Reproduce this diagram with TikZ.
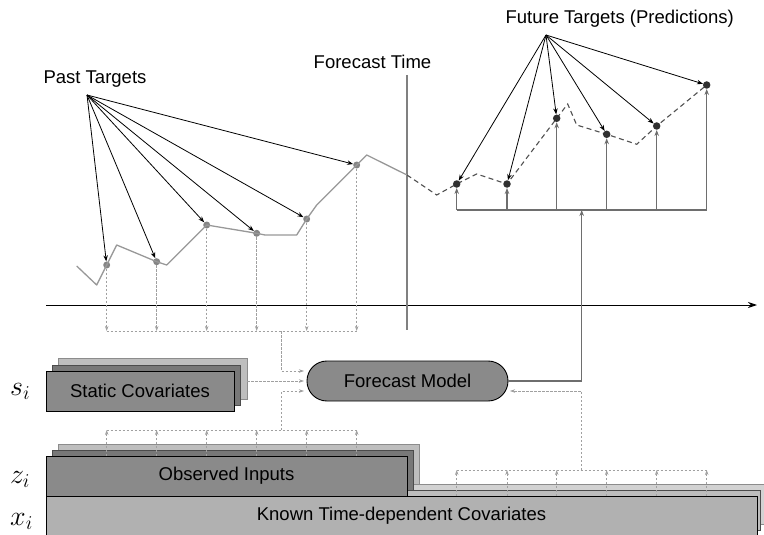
\RequirePackage{fix-cm}
\documentclass[tikz,border=0pt]{standalone}
\usepackage{fontspec}
\setmainfont{Liberation Sans}
\usetikzlibrary{arrows.meta}

\definecolor{seriesgray}{HTML}{989898}
\definecolor{pastdot}{HTML}{858585}
\definecolor{futdot}{HTML}{303030}
\definecolor{futline}{HTML}{505050}
\definecolor{linkgray}{HTML}{6E6E6E}
\definecolor{dashgray}{HTML}{A0A0A0}
\definecolor{midfill}{HTML}{8A8A8A}
\definecolor{darkfill}{HTML}{787878}
\definecolor{lightfill}{HTML}{BEBEBE}
\definecolor{knownfill}{HTML}{B1B1B1}
\definecolor{knownmid}{HTML}{BDBDBD}
\definecolor{knownback}{HTML}{D2D2D2}

\tikzset{
  lbl/.style={font=\fontsize{18.5}{22}\selectfont},
  mathlbl/.style={font=\fontsize{28}{32}\selectfont, anchor=base west, inner sep=0pt},
  frontbox/.style={draw=black, line width=0.9pt, inner sep=0pt, outer sep=0pt, lbl},
  midlayer/.style={draw=black!70, line width=0.9pt},
  backlayer/.style={draw=black!45, line width=0.9pt},
  pdot/.style={circle, fill=pastdot, inner sep=0pt, minimum size=7pt},
  fdot/.style={circle, fill=futdot, inner sep=0pt, minimum size=7.5pt},
  blkarrow/.style={draw=black, line width=0.8pt, -{Stealth[length=6pt,width=4.5pt]}},
  gdash/.style={draw=dashgray, line width=0.7pt, dash pattern=on 2.5pt off 1.5pt, -{Stealth[length=5pt,width=3.5pt]}},
  gdashline/.style={draw=dashgray, line width=0.7pt, dash pattern=on 2.5pt off 1.5pt},
  linkline/.style={draw=linkgray, line width=1.1pt},
  linkarrow/.style={draw=linkgray, line width=1.1pt, -{Stealth[length=6pt,width=4.5pt]}},
}

\begin{document}
\begin{tikzpicture}[x=1pt,y=-1pt]
\useasboundingbox (0,0) rectangle (764,535);

% ---------- input stacks ----------
% known time-dependent covariates (rear layers)
\path[backlayer, fill=knownback] (58,484) rectangle (768,524);
\path[midlayer, fill=knownmid] (52,490) rectangle (760.5,530);
% observed inputs
\path[backlayer, fill=lightfill] (58,444) rectangle (419,484);
\path[midlayer, fill=darkfill] (52,450) rectangle (413,490);
\node[frontbox, fill=midfill, minimum width=361pt, minimum height=40pt] (obs) at (226.5,476) {Observed Inputs};
% known time-dependent covariates (front)
\node[frontbox, fill=knownfill, minimum width=711pt, minimum height=40pt] (known) at (401.5,516) {Known Time-dependent Covariates};
% static covariates
\path[backlayer, fill=lightfill] (58,358) rectangle (247,399);
\path[midlayer, fill=darkfill] (52,365) rectangle (240.5,405);
\node[frontbox, fill=midfill, minimum width=188pt, minimum height=40pt] (static) at (140,391) {Static Covariates};

% side labels
\node[mathlbl] (slbl) at (10,395) {$s_i$};
\node[mathlbl] (zlbl) at (10,483) {$z_i$};
\node[mathlbl] (xlbl) at (10,525) {$x_i$};

% ---------- forecast model ----------
\node[frontbox, fill=midfill, rounded corners=19.9pt, minimum width=201pt, minimum height=40pt] (model) at (407.5,381) {Forecast Model};

% ---------- time axis and forecast time ----------
\draw[line width=1pt, -{Stealth[length=9pt,width=6pt]}] (46,305) coordinate (axstart) -- (757,305) coordinate (axend);
\draw[draw=black!50, line width=1.1pt] (407,75) coordinate (fttop) -- (407,330) coordinate (ftbot);

% ---------- target series ----------
\node[pdot] (p1) at (106.7,265) {};
\node[pdot] (p2) at (156.7,261.7) {};
\node[pdot] (p3) at (206.7,225) {};
\node[pdot] (p4) at (256.7,233.3) {};
\node[pdot] (p5) at (306.7,219) {};
\node[pdot] (p6) at (356.7,165) {};
\coordinate (split) at (407,175);

\draw[seriesgray, line width=1.3pt, line join=round]
  (76.7,266) -- (96.7,285) -- (p1.center) -- (116.7,245) -- (p2.center) -- (166.7,265)
  -- (p3.center) -- (p4.center) -- (265,235) -- (296.7,235) -- (p5.center) -- (316.7,205)
  -- (p6.center) -- (366.7,155) -- (split);

\coordinate (f1) at (456.7,184);
\coordinate (f2) at (507,184);
\coordinate (f3) at (556.7,118.3);
\coordinate (f4) at (606.7,134.3);
\coordinate (f5) at (656.7,126);
\coordinate (f6) at (706.7,85);

\draw[futline, line width=1.1pt, dash pattern=on 5pt off 3.5pt]
  (split) -- (436.7,195) -- (f1) -- (476.7,174) -- (f2) -- (f3) -- (567.7,104)
  -- (576.7,125) -- (f4) -- (636.7,144.3) -- (f5) -- (f6);

\foreach \f in {f1,f2,f3,f4,f5,f6} \node[fdot] (d\f) at (\f) {};

% ---------- titles ----------
\node[lbl, anchor=base, inner sep=0pt] (pastlbl) at (95,83.3) {Past Targets};
\node[lbl, anchor=base, inner sep=0pt] (ftlbl) at (372.5,68.3) {Forecast Time};
\node[lbl, anchor=base, inner sep=0pt] (futlbl) at (619.7,23.3) {Future Targets (Predictions)};
\coordinate (papex) at (87,95);
\coordinate (fapex) at (546,35);

% ---------- past targets feeding the model ----------
\coordinate (pbus) at (281.7,331);
\foreach \p in {p1,p2,p3,p4,p5,p6} \draw[gdash] (\p) -- (\p |- pbus);
\draw[gdashline] (p1 |- pbus) -- (p6 |- pbus);

\coordinate (obus) at (281.7,430);
\foreach \p in {p1,p2,p3,p4,p5,p6} \draw[gdash] (\p |- obs.north) -- (\p |- obus);
\draw[gdashline] (p1 |- obus) -- (p6 |- obus);

\coordinate (kbus) at (581.7,470);
\foreach \f in {f1,f2,f3,f4,f5,f6} \draw[gdash] (\f |- known.north) -- (\f |- kbus);
\draw[gdashline] (f1 |- kbus) -- (f6 |- kbus);

\coordinate (in1) at (304,371);
\coordinate (in2) at (304,381);
\coordinate (in3) at (304,391);
\coordinate (in4) at (510,391);
\coordinate (sright) at (247,381);
\draw[gdash] (pbus) |- (in1);
\draw[gdash] (sright) -- (in2);
\draw[gdash] (obus) |- (in3);
\draw[gdash] (kbus) |- (in4);

% ---------- model output to the predictions ----------
\coordinate (fbus) at (581.7,210);
\draw[linkarrow] (model.east) -| (fbus);
\draw[linkline] (f1 |- fbus) -- (f6 |- fbus);
\foreach \f in {f1,f2,f3,f4,f5,f6} \draw[linkarrow] (\f |- fbus) -- (d\f);

% ---------- label pointers ----------
\foreach \p in {p1,p2,p3,p4,p5,p6} \draw[blkarrow] (papex) -- (\p);
\foreach \f in {f1,f2,f3,f4,f5,f6} \draw[blkarrow] (fapex) -- (d\f);

\end{tikzpicture}
\end{document}
